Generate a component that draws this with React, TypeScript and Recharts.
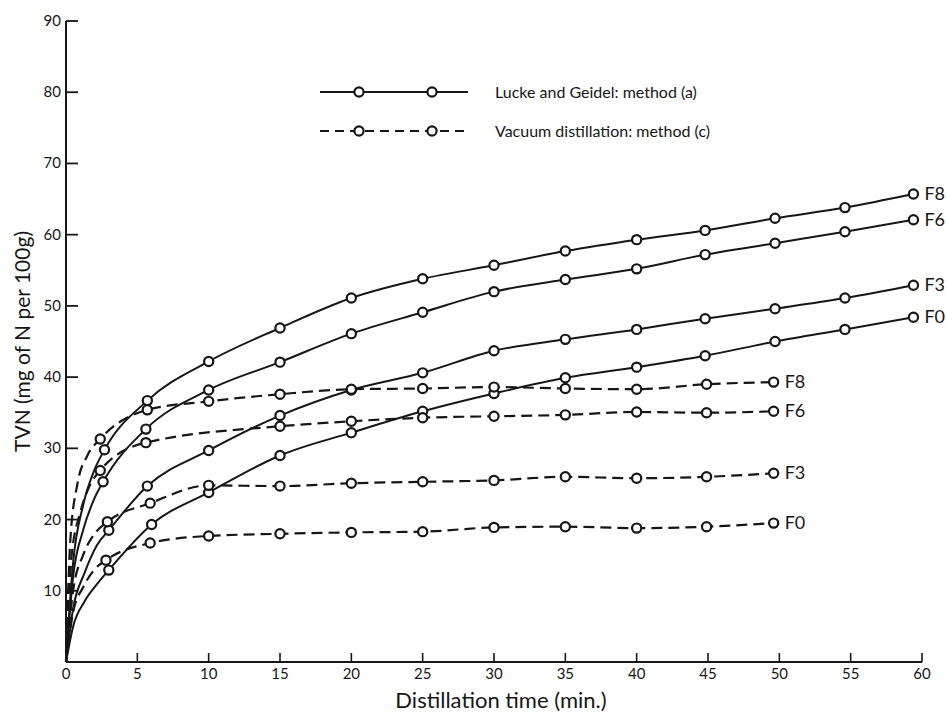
import { useLayoutEffect } from 'react'
import { LineChart, Line, XAxis, YAxis, Legend, LabelList, Label } from 'recharts'

const FONT = "Lato, 'Open Sans', sans-serif"
const INK = '#161616'

const X_TICKS = [0, 5, 10, 15, 20, 25, 30, 35, 40, 45, 50, 55, 60]
const Y_TICKS = [10, 20, 30, 40, 50, 60, 70, 80, 90]

// Lucke and Geidel, method (a) -- measured points
const LG_LATE_T = [10, 15, 20, 25, 30, 35, 40, 44.8, 49.7, 54.6, 59.4]
const lgF8T = [2.7, 5.7, ...LG_LATE_T]
const lgF8 = [29.8, 36.7, 42.2, 46.9, 51.1, 53.8, 55.7, 57.7, 59.3, 60.6, 62.3, 63.8, 65.7]
const lgF6T = [2.6, 5.6, ...LG_LATE_T]
const lgF6 = [25.3, 32.7, 38.2, 42.1, 46.1, 49.1, 52.0, 53.7, 55.2, 57.2, 58.8, 60.4, 62.1]
const lgF3T = [3.0, 5.7, ...LG_LATE_T]
const lgF3 = [18.5, 24.7, 29.7, 34.6, 38.2, 40.6, 43.7, 45.3, 46.7, 48.2, 49.6, 51.1, 52.9]
const lgF0T = [3.0, 6.0, ...LG_LATE_T]
const lgF0 = [12.9, 19.3, 23.8, 29.0, 32.2, 35.2, 37.7, 39.9, 41.4, 43.0, 45.0, 46.7, 48.4]

// Vacuum distillation, method (c) -- measured points
const VD_LATE_T = [10, 15, 20, 25, 30, 35, 40, 44.9, 49.6]
const vdF8T = [2.4, 5.7, ...VD_LATE_T]
const vdF8 = [31.3, 35.4, 36.6, 37.6, 38.3, 38.4, 38.6, 38.4, 38.3, 39.0, 39.3]
const vdF6T = [2.4, 5.6, 15, 20, 25, 30, 35, 40, 44.9, 49.6]
const vdF6 = [26.9, 30.8, 33.1, 33.8, 34.3, 34.5, 34.7, 35.1, 35.0, 35.2]
const vdF3T = [2.9, 5.9, ...VD_LATE_T]
const vdF3 = [19.7, 22.3, 24.8, 24.7, 25.1, 25.3, 25.5, 26.0, 25.8, 26.0, 26.5]
const vdF0T = [2.8, 5.9, ...VD_LATE_T]
const vdF0 = [14.3, 16.7, 17.7, 18.0, 18.2, 18.3, 18.9, 19.0, 18.8, 19.0, 19.5]

// start of each fitted curve (from the origin, no marker)
const lgF8LeadT = [0, 0.5, 1.2, 2.0]
const lgF8Lead = [0, 14, 22, 27]
const lgF6LeadT = [0, 0.5, 1.2, 2.0]
const lgF6Lead = [0, 12, 18.5, 23]
const lgF3LeadT = [0, 0.5, 1.3, 2.2]
const lgF3Lead = [0, 7.5, 12.5, 16.5]
const lgF0LeadT = [0, 0.5, 1.3, 2.2]
const lgF0Lead = [0, 5, 8.5, 11]
const vdF8LeadT = [0, 0.3, 0.8, 1.5]
const vdF8Lead = [0, 17, 25, 29]
const vdF6LeadT = [0, 0.4, 1.0, 1.6]
const vdF6Lead = [0, 15, 21, 24.5]
const vdF3LeadT = [0, 0.5, 1.2, 2.0]
const vdF3Lead = [0, 10, 15, 18]
const vdF0LeadT = [0, 0.5, 1.2, 2.0]
const vdF0Lead = [0, 7, 10.5, 13]

type Pt = { t: number; v: number; m: boolean }

const build = (leadT: number[], lead: number[], t: number[], v: number[]): Pt[] => [
  ...leadT.map((x, i) => ({ t: x, v: lead[i], m: false })),
  ...t.map((x, i) => ({ t: x, v: v[i], m: true })),
]

const SERIES = [
  { id: 'lgF8', name: 'F8', dashed: false, data: build(lgF8LeadT, lgF8Lead, lgF8T, lgF8) },
  { id: 'lgF6', name: 'F6', dashed: false, data: build(lgF6LeadT, lgF6Lead, lgF6T, lgF6) },
  { id: 'lgF3', name: 'F3', dashed: false, data: build(lgF3LeadT, lgF3Lead, lgF3T, lgF3) },
  { id: 'lgF0', name: 'F0', dashed: false, data: build(lgF0LeadT, lgF0Lead, lgF0T, lgF0) },
  { id: 'vdF8', name: 'F8', dashed: true, data: build(vdF8LeadT, vdF8Lead, vdF8T, vdF8) },
  { id: 'vdF6', name: 'F6', dashed: true, data: build(vdF6LeadT, vdF6Lead, vdF6T, vdF6) },
  { id: 'vdF3', name: 'F3', dashed: true, data: build(vdF3LeadT, vdF3Lead, vdF3T, vdF3) },
  { id: 'vdF0', name: 'F0', dashed: true, data: build(vdF0LeadT, vdF0Lead, vdF0T, vdF0) },
]

const DASH = '11 6'

const XTick = (p: any) => {
  const { x, y, payload } = p
  return (
    <g>
      {payload.value !== 0 && <line x1={x} x2={x} y1={y} y2={y - 9} stroke={INK} strokeWidth={1.6} />}
      <text x={x} y={y + 17} textAnchor="middle" fontSize={15} fontFamily={FONT} fill={INK}>
        {payload.value}
      </text>
    </g>
  )
}

const YTick = (p: any) => {
  const { x, y, payload } = p
  return (
    <g>
      <line x1={x} x2={x + 12} y1={y} y2={y} stroke={INK} strokeWidth={1.8} />
      <text x={x - 5} y={y + 5} textAnchor="end" fontSize={15} fontFamily={FONT} fill={INK}>
        {payload.value}
      </text>
    </g>
  )
}

const renderDot = (p: any) =>
  p.payload && p.payload.m ? (
    <circle key={`d-${p.index}`} cx={p.cx} cy={p.cy} r={4.6} fill="#fff" stroke={INK} strokeWidth={2.2} />
  ) : (
    <g key={`d-${p.index}`} />
  )

const endLabel = (name: string, last: number) => (p: any) =>
  p.index === last ? (
    <text x={p.x + 11} y={p.y + 6} fontSize={18} fontFamily={FONT} fill={INK}>
      {name}
    </text>
  ) : null

const LegendBox = () => (
  <svg width={440} height={80} style={{ display: 'block' }}>
    <line x1={20} x2={168} y1={22} y2={22} stroke={INK} strokeWidth={2.2} />
    <circle cx={59} cy={22} r={4.6} fill="#fff" stroke={INK} strokeWidth={2.2} />
    <circle cx={132} cy={22} r={4.6} fill="#fff" stroke={INK} strokeWidth={2.2} />
    <text x={195} y={28} fontSize={16} fontFamily={FONT} fill={INK}>
      Lucke and Geidel: method (a)
    </text>
    <line x1={20} x2={168} y1={61} y2={61} stroke={INK} strokeWidth={2.2} strokeDasharray="9 6" />
    <circle cx={59} cy={61} r={4.6} fill="#fff" stroke={INK} strokeWidth={2.2} />
    <circle cx={132} cy={61} r={4.6} fill="#fff" stroke={INK} strokeWidth={2.2} />
    <text x={195} y={67} fontSize={16} fontFamily={FONT} fill={INK}>
      Vacuum distillation: method (c)
    </text>
  </svg>
)

const XTitle = (p: any) => {
  const vb = p.viewBox
  return (
    <text x={vb.x + vb.width / 2 + 7} y={vb.y + 46} textAnchor="middle" fontSize={22} fontFamily={FONT} fill={INK}>
      Distillation time (min.)
    </text>
  )
}

const YTitle = (p: any) => {
  const vb = p.viewBox
  const cx = vb.x + 13
  const cy = vb.y + vb.height / 2
  return (
    <text
      x={cx}
      y={cy}
      transform={`rotate(-90 ${cx} ${cy})`}
      textAnchor="middle"
      dominantBaseline="central"
      fontSize={21}
      fontFamily={FONT}
      fill={INK}
    >
      TVN (mg of N per 100g)
    </text>
  )
}

export default function App() {
  // the F-labels reach the right edge of the window, so take the body margin into our own padding
  useLayoutEffect(() => {
    document.body.style.margin = '0'
  }, [])

  return (
    <div style={{ padding: '8px 0 0 8px', width: 938, height: 705 }}>
      <LineChart width={938} height={705} margin={{ top: 13, right: 24, bottom: 0, left: 0 }}>
        <XAxis
          type="number"
          dataKey="t"
          domain={[0, 60]}
          ticks={X_TICKS}
          interval={0}
          height={51}
          axisLine={{ stroke: INK, strokeWidth: 2 }}
          tickLine={false}
          tickSize={0}
          tickMargin={0}
          tick={(p: any) => <XTick {...p} />}
        >
          <Label content={XTitle} />
        </XAxis>
        <YAxis
          type="number"
          domain={[0, 90]}
          ticks={Y_TICKS}
          interval={0}
          width={58}
          axisLine={{ stroke: INK, strokeWidth: 2 }}
          tickLine={false}
          tickSize={0}
          tickMargin={0}
          tick={(p: any) => <YTick {...p} />}
        >
          <Label content={YTitle} />
        </YAxis>
        {SERIES.map((s) => (
          <Line
            key={s.id}
            data={s.data}
            dataKey="v"
            type="monotone"
            stroke={INK}
            strokeWidth={s.dashed ? 2.2 : 2}
            strokeDasharray={s.dashed ? DASH : undefined}
            dot={renderDot}
            activeDot={false}
            isAnimationActive={false}
          >
            <LabelList dataKey="v" content={endLabel(s.name, s.data.length - 1)} />
          </Line>
        ))}
        <Legend
          verticalAlign="middle"
          content={LegendBox}
          wrapperStyle={{ left: 292, top: 62, width: 440, height: 80 }}
        />
      </LineChart>
    </div>
  )
}
